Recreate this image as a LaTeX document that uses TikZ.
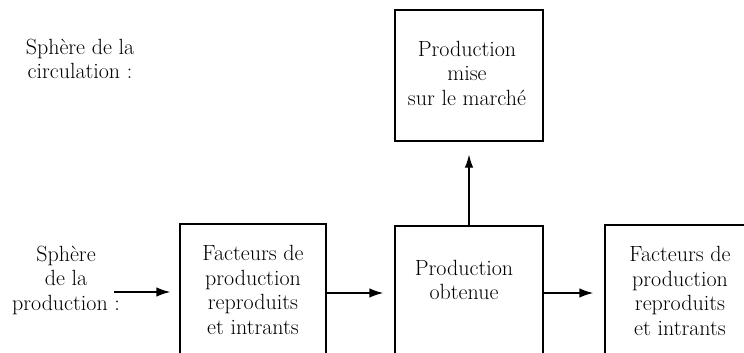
\documentclass[tikz,border=0pt]{standalone}
\usetikzlibrary{arrows.meta}
\begin{document}
\begin{tikzpicture}[x=1pt,y=-1pt,
  box/.style={draw, line width=1.3pt, inner sep=0pt},
  lbl/.style={align=center, inner sep=0pt, font=\fontsize{22}{24.5}\selectfont},
  flow/.style={line width=1.6pt, -{Latex[length=14pt,width=9.5pt]}},
  rise/.style={line width=1.1pt, -{Latex[length=13pt,width=8.5pt]}}]
\useasboundingbox (0,0) rectangle (744,353);
\clip (0,0) rectangle (744,353);

% sphere labels
\node[lbl] (circ) at (80,59) {Sphère de la\\circulation :};
\node[lbl] (prod) at (66,280) {Sphère\\de la\\production :};
\coordinate (entry) at (114,292);

% boxes
\node[box, minimum width=148pt, minimum height=131pt] (market) at (469,75.5) {};
\node[lbl] (markettxt) at (467,73) {Production\\mise\\sur le marché};

\node[box, minimum width=146pt, minimum height=138pt] (inputs) at (253,293) {};
\node[lbl] (inputstxt) at (253,290) {Facteurs de\\production\\reproduits\\et intrants};

\node[box, minimum width=148pt, minimum height=134pt] (output) at (469,293) {};
\node[lbl] (outputtxt) at (464,280) {Production\\obtenue};

\node[box, minimum width=146pt, minimum height=136pt] (next) at (678,293) {};
\node[lbl] (nexttxt) at (680,291) {Facteurs de\\production\\reproduits\\et intrants};

% connectors
\draw[flow, shorten >=9pt] (entry) -- (entry -| inputs.west);
\draw[flow, shorten >=11pt] (inputs.east) -- (output.west);
\draw[flow, shorten >=11pt] (output.east) -- (next.west);
\draw[rise, shorten >=13pt] (output.north) -- (market.south);
\end{tikzpicture}
\end{document}
